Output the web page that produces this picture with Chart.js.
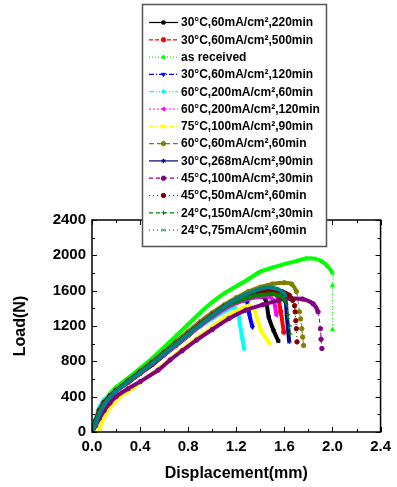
<!DOCTYPE html>
<html>
<head>
<meta charset="utf-8">
<script src="https://cdn.jsdelivr.net/npm/chart.js@4.4.1/dist/chart.umd.min.js"></script>
<style>
html, body { margin: 0; padding: 0; background: #fff; }
canvas { display: block; }
</style>
</head>
<body>
<canvas id="loadChart" width="397" height="487"></canvas>
<script>
// displacement (mm) / load (N)
const disp_30_60_220 = [0, 0.03, 0.06, 0.1, 0.15, 0.2, 0.3, 0.4, 0.5, 0.6, 0.7, 0.8, 0.9, 1.0, 1.1, 1.2, 1.3, 1.38, 1.44, 1.47, 1.51, 1.55];
const load_30_60_220 = [0, 100, 210, 310, 395, 460, 560, 660, 760, 870, 980, 1090, 1200, 1300, 1390, 1460, 1510, 1530, 1510, 1300, 1150, 1030];

const disp_30_60_500 = [0, 0.03, 0.06, 0.1, 0.15, 0.2, 0.3, 0.4, 0.5, 0.6, 0.7, 0.8, 0.9, 1.0, 1.1, 1.2, 1.3, 1.4, 1.48, 1.54, 1.57, 1.595];
const load_30_60_500 = [0, 110, 220, 315, 400, 465, 565, 665, 770, 880, 990, 1100, 1210, 1310, 1400, 1475, 1530, 1565, 1575, 1545, 1360, 1130];

const disp_received = [0, 0.03, 0.06, 0.1, 0.15, 0.2, 0.3, 0.4, 0.5, 0.6, 0.7, 0.8, 0.9, 1.0, 1.1, 1.2, 1.3, 1.4, 1.5, 1.6, 1.7, 1.78, 1.86, 1.92, 1.96, 2.0, 2.0, 2.0];
const load_received = [0, 120, 240, 345, 435, 505, 610, 720, 835, 960, 1090, 1220, 1350, 1470, 1570, 1650, 1730, 1815, 1860, 1900, 1935, 1965, 1960, 1925, 1875, 1800, 1660, 1160];

const disp_30_60_120 = [0, 0.03, 0.06, 0.1, 0.15, 0.2, 0.3, 0.4, 0.5, 0.6, 0.7, 0.8, 0.9, 1.0, 1.1, 1.2, 1.26, 1.29, 1.31, 1.335];
const load_30_60_120 = [0, 110, 220, 315, 400, 465, 570, 670, 775, 885, 995, 1105, 1215, 1315, 1405, 1470, 1495, 1470, 1320, 1185];

const disp_60_200_60 = [0, 0.03, 0.06, 0.1, 0.15, 0.2, 0.3, 0.4, 0.5, 0.6, 0.7, 0.8, 0.9, 1.0, 1.1, 1.17, 1.21, 1.23, 1.25, 1.265];
const load_60_200_60 = [0, 150, 280, 365, 425, 475, 575, 675, 780, 885, 990, 1095, 1195, 1285, 1365, 1410, 1380, 1220, 1060, 940];

const disp_60_200_120 = [0, 0.03, 0.06, 0.1, 0.15, 0.2, 0.3, 0.4, 0.5, 0.6, 0.7, 0.8, 0.9, 1.0, 1.1, 1.2, 1.3, 1.4, 1.47, 1.51, 1.535];
const load_60_200_120 = [0, 100, 210, 310, 395, 460, 565, 665, 770, 875, 985, 1095, 1200, 1300, 1390, 1460, 1505, 1530, 1530, 1490, 1320];

const disp_75_100_90 = [0, 0.05, 0.08, 0.12, 0.18, 0.25, 0.3, 0.4, 0.5, 0.6, 0.7, 0.8, 0.9, 1.0, 1.1, 1.2, 1.31, 1.35, 1.4, 1.44, 1.48];
const load_75_100_90 = [0, 0, 100, 220, 330, 420, 460, 560, 660, 770, 880, 990, 1090, 1190, 1290, 1370, 1430, 1380, 1170, 1075, 1000];

const disp_60_60_60 = [0, 0.03, 0.06, 0.1, 0.15, 0.2, 0.3, 0.4, 0.5, 0.6, 0.7, 0.8, 0.9, 1.0, 1.1, 1.2, 1.3, 1.4, 1.5, 1.6, 1.66, 1.7, 1.725, 1.735, 1.745, 1.752, 1.76];
const load_60_60_60 = [0, 110, 225, 325, 410, 475, 585, 690, 800, 910, 1030, 1140, 1250, 1350, 1440, 1520, 1590, 1640, 1675, 1690, 1675, 1590, 1360, 1280, 1170, 1075, 980];

const disp_30_268_90 = [0, 0.03, 0.06, 0.1, 0.15, 0.2, 0.3, 0.4, 0.5, 0.6, 0.7, 0.8, 0.9, 1.0, 1.1, 1.2, 1.3, 1.4, 1.5, 1.57, 1.61, 1.62, 1.63, 1.64];
const load_30_268_90 = [0, 110, 220, 315, 400, 465, 570, 675, 780, 890, 1000, 1110, 1220, 1320, 1415, 1490, 1550, 1590, 1600, 1580, 1470, 1320, 1170, 1020];

const disp_45_100_30 = [0, 0.03, 0.06, 0.1, 0.15, 0.2, 0.3, 0.4, 0.55, 0.65, 0.75, 0.87, 1.0, 1.14, 1.28, 1.42, 1.55, 1.65, 1.75, 1.84, 1.88, 1.9, 1.905, 1.912];
const load_45_100_30 = [0, 70, 150, 240, 330, 400, 490, 570, 700, 815, 920, 1040, 1160, 1285, 1380, 1440, 1490, 1510, 1505, 1450, 1360, 1170, 1050, 945];

const disp_45_50_60 = [0, 0.03, 0.06, 0.1, 0.15, 0.2, 0.3, 0.4, 0.5, 0.6, 0.7, 0.8, 0.9, 1.0, 1.1, 1.2, 1.3, 1.4, 1.5, 1.58, 1.64, 1.67, 1.685, 1.69, 1.695, 1.7, 1.705];
const load_45_50_60 = [0, 130, 245, 335, 410, 470, 575, 680, 785, 895, 1005, 1115, 1225, 1325, 1420, 1495, 1545, 1580, 1595, 1590, 1550, 1490, 1430, 1360, 1260, 1170, 1020];

const disp_24_150_30 = [0, 0.03, 0.06, 0.1, 0.15, 0.2, 0.3, 0.4, 0.5, 0.6, 0.7, 0.8, 0.9, 1.0, 1.1, 1.2, 1.3, 1.4, 1.5, 1.57, 1.61, 1.63, 1.645, 1.65];
const load_24_150_30 = [0, 110, 220, 315, 400, 465, 570, 675, 780, 890, 1000, 1110, 1215, 1315, 1410, 1475, 1520, 1550, 1560, 1540, 1470, 1330, 1200, 1110];

const disp_24_75_60 = [0, 0.03, 0.06, 0.1, 0.15, 0.2, 0.3, 0.4, 0.5, 0.6, 0.7, 0.8, 0.9, 1.0, 1.1, 1.2, 1.3, 1.4, 1.47, 1.54, 1.58, 1.61, 1.62, 1.63, 1.64];
const load_24_75_60 = [0, 90, 200, 300, 390, 460, 570, 670, 775, 885, 995, 1105, 1215, 1320, 1420, 1505, 1570, 1620, 1640, 1620, 1590, 1545, 1430, 1300, 1180];

const seriesLabels = [
    '30°C,60mA/cm²,220min',
    '30°C,60mA/cm²,500min',
    'as received',
    '30°C,60mA/cm²,120min',
    '60°C,200mA/cm²,60min',
    '60°C,200mA/cm²,120min',
    '75°C,100mA/cm²,90min',
    '60°C,60mA/cm²,60min',
    '30°C,268mA/cm²,90min',
    '45°C,100mA/cm²,30min',
    '45°C,50mA/cm²,60min',
    '24°C,150mA/cm²,30min',
    '24°C,75mA/cm²,60min'
];
const seriesDisp = [disp_30_60_220, disp_30_60_500, disp_received, disp_30_60_120, disp_60_200_60, disp_60_200_120,
    disp_75_100_90, disp_60_60_60, disp_30_268_90, disp_45_100_30, disp_45_50_60, disp_24_150_30, disp_24_75_60];
const seriesLoad = [load_30_60_220, load_30_60_500, load_received, load_30_60_120, load_60_200_60, load_60_200_120,
    load_75_100_90, load_60_60_60, load_30_268_90, load_45_100_30, load_45_50_60, load_24_150_30, load_24_75_60];

const xTickLabels = ['0.0', '0.4', '0.8', '1.2', '1.6', '2.0', '2.4'];
const yTickLabels = ['0', '400', '800', '1200', '1600', '2000', '2400'];

// look of each series (Origin-like default sequence)
const looks = [
    { color: '#000000', dash: [], marker: 'rect', rot: 0, thinDrop: false },
    { color: '#ff0000', dash: [4, 2], marker: 'circle', rot: 0, thinDrop: false },
    { color: '#00ff00', dash: [1, 2], marker: 'triangle', rot: 0, thinDrop: true },
    { color: '#0000ff', dash: [5, 2, 1, 2], marker: 'triangle', rot: 180, thinDrop: false },
    { color: '#00ffff', dash: [5, 2, 1, 2, 1, 2], marker: 'rectRot', rot: 0, thinDrop: false },
    { color: '#ff00ff', dash: [2, 2], marker: 'triangle', rot: -90, thinDrop: false },
    { color: '#ffff00', dash: [5, 2, 1, 2], marker: 'triangle', rot: 90, thinDrop: false },
    { color: '#808000', dash: [5, 3], marker: 'circle', rot: 0, thinDrop: true },
    { color: '#000080', dash: [], marker: 'star', rot: 0, thinDrop: false },
    { color: '#800080', dash: [4, 3], marker: 'circle', rot: 0, thinDrop: true },
    { color: '#800000', dash: [1, 3], marker: 'circle', rot: 0, thinDrop: true },
    { color: '#008000', dash: [4, 3], marker: 'cross', rot: 0, thinDrop: true },
    { color: '#008080', dash: [1, 3], marker: 'crossRot', rot: 0, thinDrop: true }
];

const FONT = "'Liberation Sans', Arial, sans-serif";

function steepDrop(c, look) {
    if (!look.thinDrop) return false;
    const dx = Math.abs(c.p1.x - c.p0.x);
    const dy = c.p1.y - c.p0.y;
    return dy > 0 && dy > 2 * dx;
}

const datasets = seriesLabels.map((label, i) => {
    const look = looks[i];
    return {
        label: label,
        data: seriesDisp[i].map((d, k) => ({ x: d, y: seriesLoad[i][k] })),
        borderColor: look.color,
        backgroundColor: look.color,
        pointBackgroundColor: look.color,
        pointBorderColor: look.color,
        pointStyle: look.marker,
        rotation: look.rot,
        pointRadius: 2.2,
        pointBorderWidth: 1,
        borderWidth: 4,
        tension: 0.25,
        fill: false,
        order: -i,
        segment: {
            borderWidth: c => steepDrop(c, look) ? 1 : 4,
            borderDash: c => steepDrop(c, look) ? look.dash : []
        }
    };
});

// box + inward ticks (major and minor) on all four sides
const frameTicks = {
    id: 'frameTicks',
    afterDatasetsDraw(chart) {
        const { ctx, chartArea: a, scales: { x, y } } = chart;
        ctx.save();
        ctx.strokeStyle = '#000';
        ctx.lineWidth = 1.5;
        ctx.strokeRect(a.left, a.top, a.right - a.left, a.bottom - a.top);
        ctx.lineWidth = 1;
        ctx.beginPath();
        const xs = x.ticks.map(t => t.value);
        const ys = y.ticks.map(t => t.value);
        const marks = (vals) => {
            const out = [];
            vals.forEach((v, k) => {
                out.push([v, 5]);
                if (k < vals.length - 1) out.push([(v + vals[k + 1]) / 2, 3]);
            });
            return out;
        };
        marks(xs).forEach(([v, len]) => {
            const px = Math.round(x.getPixelForValue(v)) + 0.5;
            ctx.moveTo(px, a.bottom); ctx.lineTo(px, a.bottom - len);
            ctx.moveTo(px, a.top); ctx.lineTo(px, a.top + len);
        });
        marks(ys).forEach(([v, len]) => {
            const py = Math.round(y.getPixelForValue(v)) + 0.5;
            ctx.moveTo(a.left, py); ctx.lineTo(a.left + len, py);
            ctx.moveTo(a.right, py); ctx.lineTo(a.right - len, py);
        });
        ctx.stroke();
        ctx.restore();
    }
};

// boxed legend overlapping the top of the plot
const boxLegend = {
    id: 'boxLegend',
    afterDraw(chart) {
        const ctx = chart.ctx;
        const bx = 142, by = 4, bw = 184, bh = 242;
        ctx.save();
        ctx.fillStyle = '#fff';
        ctx.fillRect(bx, by, bw, bh);
        ctx.strokeStyle = '#555';
        ctx.lineWidth = 1.5;
        ctx.strokeRect(bx + 0.5, by + 0.5, bw, bh);
        chart.data.datasets.forEach((ds, i) => {
            const look = looks[i];
            const ly = 22.5 + i * 17.3;
            ctx.strokeStyle = look.color;
            ctx.lineWidth = 1.2;
            ctx.setLineDash(look.dash);
            ctx.beginPath();
            ctx.moveTo(149, ly); ctx.lineTo(178, ly);
            ctx.stroke();
            ctx.setLineDash([]);
            ctx.fillStyle = look.color;
            ctx.lineWidth = 1;
            Chart.helpers.drawPoint(ctx, { pointStyle: look.marker, radius: 2.2, rotation: look.rot, borderWidth: 1 }, 163.5, ly);
            ctx.fillStyle = '#000';
            ctx.font = 'bold 12px ' + FONT;
            ctx.textBaseline = 'middle';
            ctx.fillText(ds.label, 181, ly + 0.5);
        });
        ctx.restore();
    }
};

Chart.defaults.color = '#000';
Chart.defaults.font.family = FONT;

new Chart(document.getElementById('loadChart').getContext('2d'), {
    type: 'line',
    data: { datasets: datasets },
    options: {
        responsive: false,
        animation: false,
        layout: { padding: { top: 220, right: 15, left: 0, bottom: 0 } },
        plugins: { legend: { display: false }, tooltip: { enabled: false } },
        scales: {
            x: {
                type: 'linear',
                min: 0,
                max: 2.4,
                ticks: {
                    stepSize: 0.4,
                    padding: 6,
                    font: { size: 15, weight: 'bold' },
                    callback: (v, i) => xTickLabels[i]
                },
                grid: { display: false, drawTicks: false },
                border: { display: false },
                title: {
                    display: true,
                    text: 'Displacement(mm)',
                    font: { size: 16, weight: 'bold' },
                    padding: { top: 0, bottom: 4 }
                },
                afterFit: s => { s.height = 55; }
            },
            y: {
                min: 0,
                max: 2400,
                ticks: {
                    stepSize: 400,
                    padding: 6,
                    font: { size: 15, weight: 'bold' },
                    callback: (v, i) => yTickLabels[i]
                },
                grid: { display: false, drawTicks: false },
                border: { display: false },
                title: {
                    display: true,
                    text: 'Load(N)',
                    font: { size: 16, weight: 'bold' },
                    padding: { top: 11, bottom: 0 }
                },
                afterFit: s => { s.width = 92; }
            }
        }
    },
    plugins: [frameTicks, boxLegend]
});
</script>
</body>
</html>
